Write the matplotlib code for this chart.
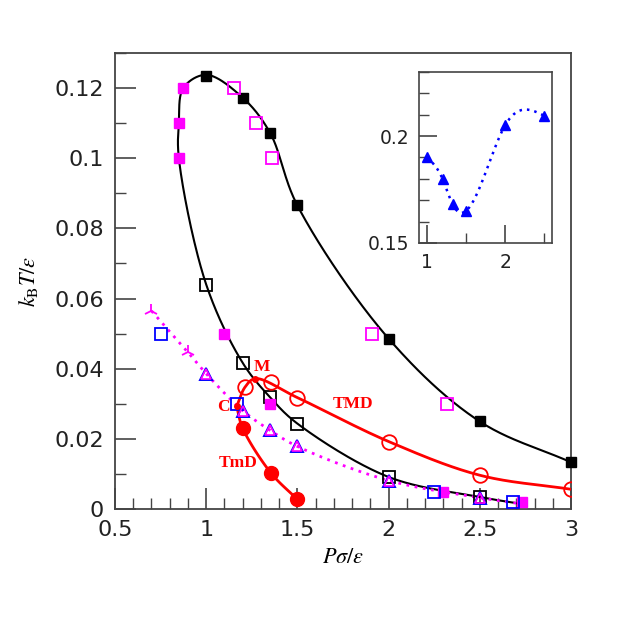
import numpy as np
import matplotlib
matplotlib.use("Agg")
import matplotlib.pyplot as plt
from matplotlib.ticker import MultipleLocator

plt.rcParams['mathtext.fontset'] = 'stix'
plt.rcParams['font.family'] = ['DejaVu Sans']

# ---------------- data ----------------
# black filled squares (upper branch)
blk_fill_x = [1.0, 1.2, 1.35, 1.5, 2.0, 2.5, 3.0]
blk_fill_y = [0.1233, 0.1172, 0.1072, 0.0865, 0.0486, 0.025, 0.0134]
# black open squares (lower branch)
blk_open_x = [1.0, 1.2, 1.35, 1.5, 2.0, 2.5]
blk_open_y = [0.064, 0.0417, 0.0319, 0.0244, 0.0092, 0.0035]
# magenta filled squares
mag_fill_x = [0.875, 0.85, 0.85, 1.1, 1.35, 2.3, 2.73]
mag_fill_y = [0.12, 0.11, 0.10, 0.05, 0.03, 0.005, 0.002]
# magenta open squares
mag_open_x = [1.15, 1.275, 1.36, 1.91, 2.32]
mag_open_y = [0.12, 0.11, 0.10, 0.05, 0.03]
# blue open squares
blu_sq_x = [0.75, 1.167, 2.25, 2.68]
blu_sq_y = [0.05, 0.03, 0.005, 0.002]
# blue/magenta open triangles
tri_x = [1.0, 1.2, 1.35, 1.5, 2.0, 2.5]
tri_y = [0.0386, 0.0281, 0.0225, 0.0179, 0.0082, 0.0033]
# magenta tri markers
ytri_x = [0.7, 0.9]
ytri_y = [0.0565, 0.0447]
# magenta dotted line knots
mdot_x = [0.7, 0.9, 1.0, 1.2, 1.35, 1.5, 2.0, 2.5, 2.72]
mdot_y = [0.0565, 0.0447, 0.0386, 0.0281, 0.0225, 0.0179, 0.0082, 0.0033, 0.0016]
# black curve knots (ordered along the curve)
bcurve_x = [3.0, 2.5, 2.0, 1.5, 1.35, 1.2, 1.0, 0.875, 0.85, 0.85,
            1.0, 1.2, 1.35, 1.5, 2.0, 2.5, 2.72]
bcurve_y = [0.0134, 0.025, 0.0486, 0.0865, 0.1072, 0.1172, 0.1237, 0.12, 0.11, 0.10,
            0.064, 0.0417, 0.0319, 0.0244, 0.0092, 0.0035, 0.0016]
# TMD (open red circles)
tmd_x = [1.213, 1.354, 1.5, 2.0, 2.5, 3.0]
tmd_y = [0.0348, 0.0362, 0.0318, 0.0193, 0.0097, 0.0057]
# TmD (filled red circles)
tmin_x = [1.2, 1.354, 1.5]
tmin_y = [0.0231, 0.0104, 0.0028]
# special points M and C
M_pt = (1.268, 0.0372)
C_pt = (1.167, 0.0293)
# TMD line knots
tmdline_x = [1.167, 1.213, 1.268, 1.5, 2.0, 2.5, 3.0]
tmdline_y = [0.0293, 0.0348, 0.0372, 0.0318, 0.0193, 0.0097, 0.0057]
# TmD line knots
tmnline_x = [1.167, 1.2, 1.354, 1.5]
tmnline_y = [0.0293, 0.0231, 0.0104, 0.0028]
# inset data
ins_x = [1.0, 1.2, 1.33, 1.5, 2.0, 2.5]
ins_y = [0.190, 0.180, 0.168, 0.165, 0.205, 0.2095]


def natural_spline(t, y, tt):
    t = np.asarray(t, float); y = np.asarray(y, float)
    n = len(t)
    h = np.diff(t)
    A = np.zeros((n, n)); b = np.zeros(n)
    A[0, 0] = 1; A[-1, -1] = 1
    for i in range(1, n - 1):
        A[i, i - 1] = h[i - 1]
        A[i, i] = 2 * (h[i - 1] + h[i])
        A[i, i + 1] = h[i]
        b[i] = 6 * ((y[i + 1] - y[i]) / h[i] - (y[i] - y[i - 1]) / h[i - 1])
    Mv = np.linalg.solve(A, b)
    out = np.empty_like(tt)
    idx = np.clip(np.searchsorted(t, tt) - 1, 0, n - 2)
    for k, (x, i) in enumerate(zip(tt, idx)):
        hi = h[i]
        a = (t[i + 1] - x) / hi
        c = (x - t[i]) / hi
        out[k] = (a * y[i] + c * y[i + 1]
                  + ((a ** 3 - a) * Mv[i] + (c ** 3 - c) * Mv[i + 1]) * hi ** 2 / 6)
    return out


def catmull_rom(xs, ys, sx=2.5, sy=0.13, nseg=40, alpha=0.5):
    P = np.column_stack([np.asarray(xs, float) / sx, np.asarray(ys, float) / sy])
    P = np.vstack([2 * P[0] - P[1], P, 2 * P[-1] - P[-2]])
    out = []
    for i in range(1, len(P) - 2):
        p0, p1, p2, p3 = P[i - 1], P[i], P[i + 1], P[i + 2]
        t0 = 0.0
        t1 = t0 + np.linalg.norm(p1 - p0) ** alpha
        t2 = t1 + np.linalg.norm(p2 - p1) ** alpha
        t3 = t2 + np.linalg.norm(p3 - p2) ** alpha
        t = np.linspace(t1, t2, nseg)[:, None]
        A1 = (t1 - t) / (t1 - t0) * p0 + (t - t0) / (t1 - t0) * p1
        A2 = (t2 - t) / (t2 - t1) * p1 + (t - t1) / (t2 - t1) * p2
        A3 = (t3 - t) / (t3 - t2) * p2 + (t - t2) / (t3 - t2) * p3
        B1 = (t2 - t) / (t2 - t0) * A1 + (t - t0) / (t2 - t0) * A2
        B2 = (t3 - t) / (t3 - t1) * A2 + (t - t1) / (t3 - t1) * A3
        C = (t2 - t) / (t2 - t1) * B1 + (t - t1) / (t2 - t1) * B2
        out.append(C)
    C = np.vstack(out)
    return C[:, 0] * sx, C[:, 1] * sy


fig = plt.figure(figsize=(6.23, 6.23), dpi=100)
ax = fig.add_axes([0.1846, 0.1825, 0.7319, 0.7329])

# curves
cx, cy = catmull_rom(bcurve_x, bcurve_y)
ax.plot(cx, cy, color='black', lw=1.5, zorder=2)
mx, my = catmull_rom(mdot_x, mdot_y)
ax.plot(mx, my, color='magenta', lw=2, ls=(0, (1, 2)), zorder=2)
rx, ry = catmull_rom(tmdline_x, tmdline_y)
ax.plot(rx, ry, color='red', lw=2, zorder=3)
rx2, ry2 = catmull_rom(tmnline_x, tmnline_y)
ax.plot(rx2, ry2, color='red', lw=2, zorder=3)

# markers
ax.plot(blk_open_x, blk_open_y, 's', ms=8, mfc='none', mec='black', mew=1.3, zorder=4)
ax.plot(blk_fill_x, blk_fill_y, 's', ms=7.5, color='black', zorder=4, clip_on=False)
ax.plot(mag_open_x, mag_open_y, 's', ms=8, mfc='none', mec='magenta', mew=1.3, zorder=4)
ax.plot(mag_fill_x, mag_fill_y, 's', ms=7.5, color='magenta', zorder=4)
ax.plot(blu_sq_x, blu_sq_y, 's', ms=8, mfc='none', mec='blue', mew=1.3, zorder=5)
ax.plot(tri_x, tri_y, '^', ms=9, mfc='none', mec='blue', mew=1.4, zorder=5)
ax.plot(tri_x, tri_y, '^', ms=6.5, mfc='none', mec='magenta', mew=1.2, zorder=5)
ax.plot(ytri_x, ytri_y, '2', ms=10, color='magenta', mew=1.3, zorder=5)
ax.plot(tmd_x, tmd_y, 'o', ms=10.5, mfc='none', mec='red', mew=1.3, zorder=5)
ax.plot(tmin_x, tmin_y, 'o', ms=10, color='red', zorder=5)
ax.plot([M_pt[0], C_pt[0]], [M_pt[1], C_pt[1]], 'o', ms=4, color='red', zorder=6)

# labels
lab_kw = dict(color='red', fontfamily='Liberation Serif', fontweight='bold',
              fontsize=12.5, ha='center', va='center')
ax.text(1.306, 0.0404, 'M', **lab_kw)
ax.text(1.092, 0.0290, 'C', **lab_kw)
ax.text(1.174, 0.0131, 'TmD', **lab_kw)
ax.text(1.805, 0.0299, 'TMD', **lab_kw)

ax.set_xlim(0.5, 3.0)
ax.set_ylim(0, 0.13)
ax.xaxis.set_minor_locator(MultipleLocator(0.1))
ax.yaxis.set_minor_locator(MultipleLocator(0.01))
ax.set_xticks([0.5, 1, 1.5, 2, 2.5, 3])
ax.set_xticklabels(['0.5', '1', '1.5', '2', '2.5', '3'])
ax.set_yticks([0, 0.02, 0.04, 0.06, 0.08, 0.1, 0.12])
ax.set_yticklabels(['0', '0.02', '0.04', '0.06', '0.08', '0.1', '0.12'])
ax.tick_params(which='both', direction='in', top=False, right=False,
               color='#444444', labelsize=16, labelcolor='#222222')
ax.tick_params(which='major', length=15, width=1.2, pad=8)
ax.tick_params(which='minor', length=8, width=1.0)
for s in ax.spines.values():
    s.set_linewidth(1.3)
    s.set_color('#444444')

ax.set_xlabel(r'$P\sigma/\epsilon$', fontsize=16, labelpad=5)
ax.set_ylabel(r'$k_{\rm B}T/\epsilon$', fontsize=16, labelpad=10)

# inset
axi = fig.add_axes([0.6726, 0.61, 0.2135, 0.2745])
ixx = np.linspace(ins_x[0], ins_x[-1], 300)
axi.plot(ixx, natural_spline(ins_x, ins_y, ixx), color='blue', lw=1.8, ls=(0, (1, 2)))
axi.plot(ins_x, ins_y, '^', ms=6.5, color='blue')
axi.set_xlim(0.9, 2.6)
axi.set_ylim(0.15, 0.23)
axi.set_xticks([1, 2])
axi.set_xticklabels(['1', '2'])
axi.xaxis.set_minor_locator(MultipleLocator(0.5))
axi.set_yticks([0.15, 0.2])
axi.set_yticklabels(['0.15', '0.2'])
axi.yaxis.set_minor_locator(MultipleLocator(0.01))
axi.tick_params(which='both', direction='in', top=False, right=False,
                color='#444444', labelsize=13.5, labelcolor='#222222')
axi.tick_params(which='major', length=13, width=1.2, pad=7)
axi.tick_params(which='minor', length=7, width=1.0)
for s in axi.spines.values():
    s.set_linewidth(1.2)
    s.set_color('#444444')

fig.savefig('out.png', dpi=100)
